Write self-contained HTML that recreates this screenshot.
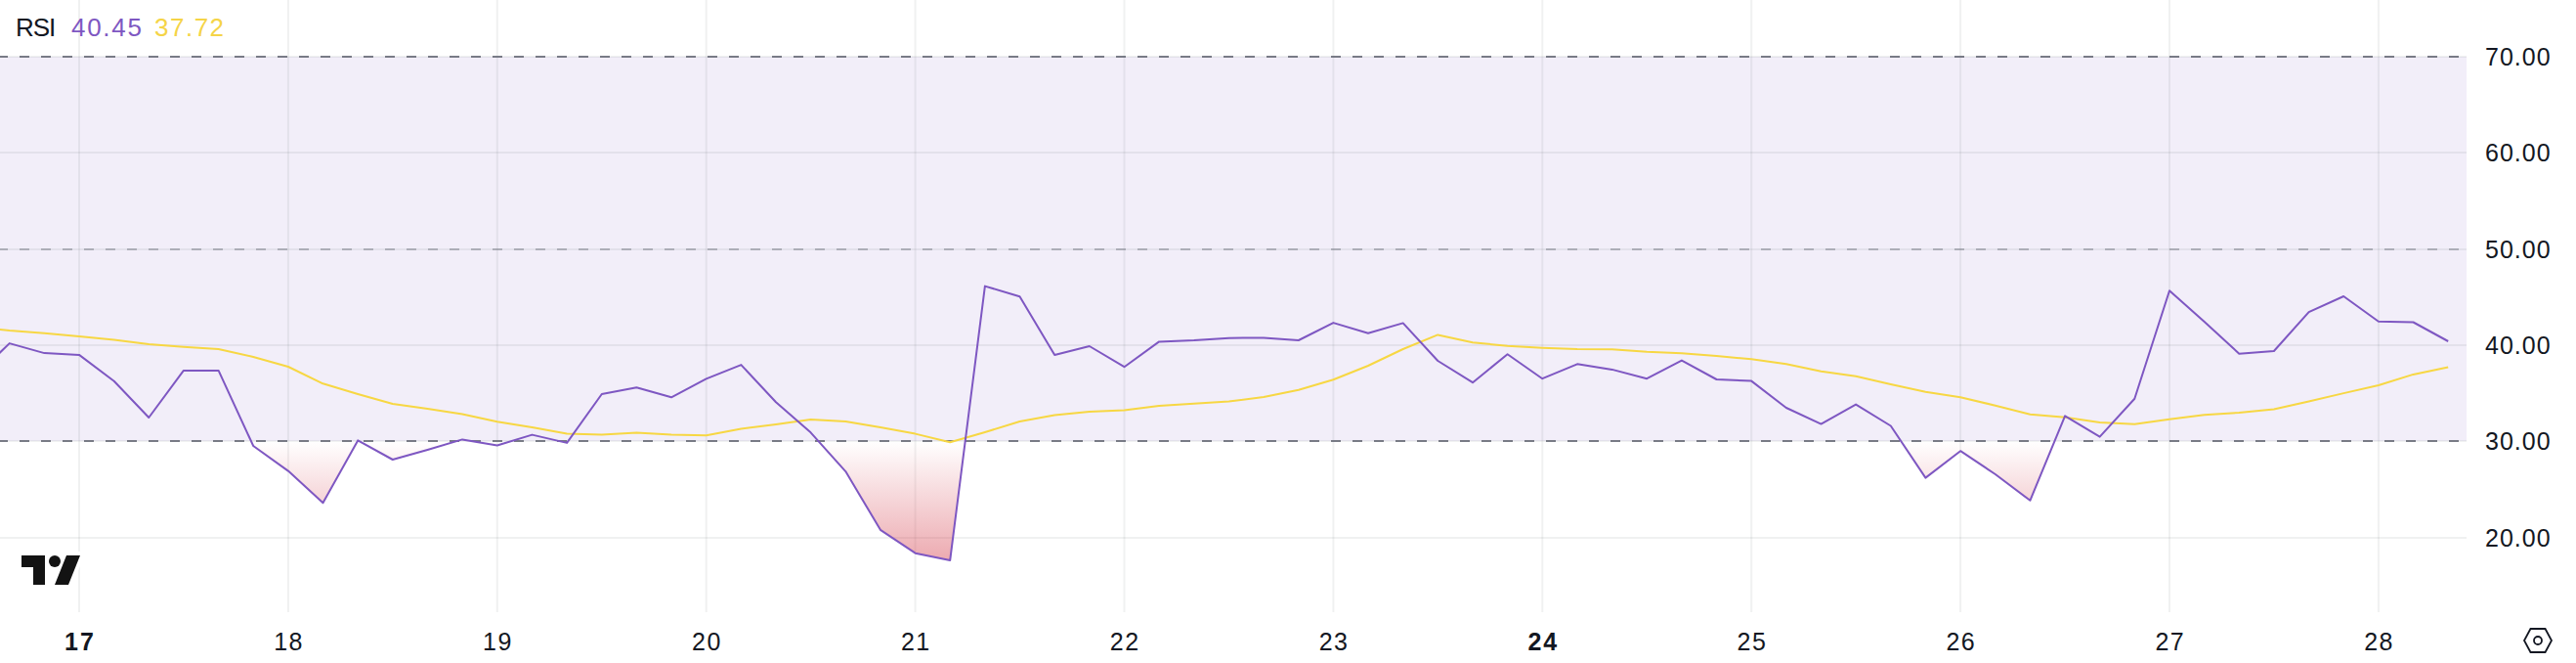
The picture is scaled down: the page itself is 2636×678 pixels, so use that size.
<!DOCTYPE html>
<html><head><meta charset="utf-8"><style>
html,body{margin:0;padding:0;background:#fff;}
body{width:2636px;height:678px;overflow:hidden;}
svg{display:block;font-family:"Liberation Sans", sans-serif;}
</style></head><body>
<svg width="2636" height="678" viewBox="0 0 2636 678">
<rect x="0" y="58" width="2524" height="393" fill="rgb(126,87,194)" fill-opacity="0.1"/>
<rect x="80.0" y="0" width="2" height="626" fill="rgba(42,56,57,0.07)"/>
<rect x="293.9" y="0" width="2" height="626" fill="rgba(42,56,57,0.07)"/>
<rect x="507.8" y="0" width="2" height="626" fill="rgba(42,56,57,0.07)"/>
<rect x="721.7" y="0" width="2" height="626" fill="rgba(42,56,57,0.07)"/>
<rect x="935.6" y="0" width="2" height="626" fill="rgba(42,56,57,0.07)"/>
<rect x="1149.5" y="0" width="2" height="626" fill="rgba(42,56,57,0.07)"/>
<rect x="1363.4" y="0" width="2" height="626" fill="rgba(42,56,57,0.07)"/>
<rect x="1577.3" y="0" width="2" height="626" fill="rgba(42,56,57,0.07)"/>
<rect x="1791.2" y="0" width="2" height="626" fill="rgba(42,56,57,0.07)"/>
<rect x="2005.1" y="0" width="2" height="626" fill="rgba(42,56,57,0.07)"/>
<rect x="2219.0" y="0" width="2" height="626" fill="rgba(42,56,57,0.07)"/>
<rect x="2432.9" y="0" width="2" height="626" fill="rgba(42,56,57,0.07)"/>
<rect x="0" y="155" width="2524" height="2" fill="rgba(42,56,57,0.07)"/>
<rect x="0" y="352" width="2524" height="2" fill="rgba(42,56,57,0.07)"/>
<rect x="0" y="549" width="2524" height="2" fill="rgba(42,56,57,0.07)"/>
<rect x="0" y="57" width="2524" height="2" fill="rgba(42,56,57,0.07)"/>
<rect x="0" y="254" width="2524" height="2" fill="rgba(42,56,57,0.07)"/>
<rect x="0" y="450" width="2524" height="2" fill="rgba(42,56,57,0.07)"/>
<line x1="0" y1="58" x2="2524" y2="58" stroke="#787B86" stroke-opacity="1" stroke-width="2" stroke-dasharray="10 12" stroke-dashoffset="2"/>
<line x1="0" y1="255" x2="2524" y2="255" stroke="#787B86" stroke-opacity="0.5" stroke-width="2" stroke-dasharray="10 12" stroke-dashoffset="2"/>
<line x1="0" y1="451" x2="2524" y2="451" stroke="#787B86" stroke-opacity="1" stroke-width="2" stroke-dasharray="10 12" stroke-dashoffset="2"/>
<defs>
<linearGradient id="os" gradientUnits="userSpaceOnUse" x1="0" y1="451" x2="0" y2="745.75">
<stop offset="0" stop-color="#D23241" stop-opacity="0"/><stop offset="1" stop-color="#D23241" stop-opacity="1"/></linearGradient>
<clipPath id="below"><rect x="0" y="451" width="2524" height="678"/></clipPath>
<clipPath id="pane"><rect x="0" y="0" width="2524" height="625"/></clipPath>
</defs>
<g clip-path="url(#pane)"><polygon points="-25.9,385.6 9.7,351.1 45.4,361.1 81.0,362.9 116.7,389.7 152.3,427.0 187.9,378.9 223.6,378.9 259.2,456.0 294.9,481.6 330.5,514.2 366.2,450.4 401.8,470.0 437.5,460.0 473.1,449.4 508.8,455.5 544.5,444.6 580.1,452.9 615.8,403.0 651.4,396.3 687.0,406.3 722.7,387.4 758.4,373.1 794.0,411.3 829.6,442.3 865.3,482.1 900.9,541.8 936.6,565.7 972.2,573.0 1007.9,292.6 1043.5,303.2 1079.2,363.0 1114.8,354.0 1150.5,375.2 1186.1,349.4 1221.8,348.0 1257.5,345.7 1293.1,345.4 1328.8,348.0 1364.4,330.1 1400.0,340.7 1435.7,330.4 1471.3,369.0 1507.0,391.2 1542.6,362.3 1578.3,387.2 1614.0,372.3 1649.6,377.9 1685.2,387.2 1720.9,368.6 1756.5,388.0 1792.2,389.6 1827.8,417.0 1863.5,433.6 1899.1,413.6 1934.8,435.5 1970.4,488.6 2006.1,461.2 2041.8,485.0 2077.4,511.8 2113.1,425.4 2148.7,446.6 2184.3,407.8 2220.0,297.3 2255.7,329.1 2291.3,361.7 2326.9,359.0 2362.6,319.2 2398.2,303.0 2433.9,328.8 2469.5,329.5 2505.2,349.0 2505.2,451 -25.9,451" fill="url(#os)" clip-path="url(#below)"/>
<polyline points="-25.9,334.5 9.7,338.1 45.4,340.8 81.0,344.1 116.7,347.5 152.3,352.0 187.9,354.8 223.6,357.1 259.2,365.0 294.9,375.0 330.5,392.3 366.2,403.0 401.8,413.0 437.5,418.0 473.1,423.6 508.8,431.2 544.5,436.9 580.1,443.6 615.8,444.6 651.4,442.5 687.0,444.5 722.7,445.2 758.4,438.5 794.0,434.0 829.6,429.0 865.3,431.0 900.9,437.0 936.6,443.6 972.2,452.3 1007.9,442.0 1043.5,431.0 1079.2,424.5 1114.8,421.0 1150.5,419.5 1186.1,415.0 1221.8,412.8 1257.5,410.4 1293.1,406.1 1328.8,398.8 1364.4,388.2 1400.0,374.0 1435.7,357.0 1471.3,342.4 1507.0,350.3 1542.6,353.7 1578.3,355.7 1614.0,357.0 1649.6,357.3 1685.2,359.7 1720.9,361.3 1756.5,364.0 1792.2,367.3 1827.8,372.3 1863.5,379.7 1899.1,384.8 1934.8,393.0 1970.4,400.7 2006.1,406.3 2041.8,414.7 2077.4,423.7 2113.1,426.7 2148.7,432.0 2184.3,433.7 2220.0,428.7 2255.7,424.3 2291.3,422.0 2326.9,418.4 2362.6,410.4 2398.2,402.1 2433.9,394.0 2469.5,382.9 2505.2,375.4" fill="none" stroke="#F7D743" stroke-width="2" stroke-linejoin="round"/>
<polyline points="-25.9,385.6 9.7,351.1 45.4,361.1 81.0,362.9 116.7,389.7 152.3,427.0 187.9,378.9 223.6,378.9 259.2,456.0 294.9,481.6 330.5,514.2 366.2,450.4 401.8,470.0 437.5,460.0 473.1,449.4 508.8,455.5 544.5,444.6 580.1,452.9 615.8,403.0 651.4,396.3 687.0,406.3 722.7,387.4 758.4,373.1 794.0,411.3 829.6,442.3 865.3,482.1 900.9,541.8 936.6,565.7 972.2,573.0 1007.9,292.6 1043.5,303.2 1079.2,363.0 1114.8,354.0 1150.5,375.2 1186.1,349.4 1221.8,348.0 1257.5,345.7 1293.1,345.4 1328.8,348.0 1364.4,330.1 1400.0,340.7 1435.7,330.4 1471.3,369.0 1507.0,391.2 1542.6,362.3 1578.3,387.2 1614.0,372.3 1649.6,377.9 1685.2,387.2 1720.9,368.6 1756.5,388.0 1792.2,389.6 1827.8,417.0 1863.5,433.6 1899.1,413.6 1934.8,435.5 1970.4,488.6 2006.1,461.2 2041.8,485.0 2077.4,511.8 2113.1,425.4 2148.7,446.6 2184.3,407.8 2220.0,297.3 2255.7,329.1 2291.3,361.7 2326.9,359.0 2362.6,319.2 2398.2,303.0 2433.9,328.8 2469.5,329.5 2505.2,349.0" fill="none" stroke="#7E57C2" stroke-width="2" stroke-linejoin="round"/></g>
<text x="16" y="37" font-size="26" letter-spacing="-1" fill="#131722">RSI</text>
<text x="73" y="37" font-size="26" letter-spacing="1.7" fill="#7E57C2">40.45</text>
<text x="158" y="37" font-size="26" letter-spacing="1.5" fill="#F5D447">37.72</text>
<text x="2543" y="67.0" font-size="25" letter-spacing="1" fill="#131722">70.00</text>
<text x="2543" y="165.0" font-size="25" letter-spacing="1" fill="#131722">60.00</text>
<text x="2543" y="264.0" font-size="25" letter-spacing="1" fill="#131722">50.00</text>
<text x="2543" y="362.0" font-size="25" letter-spacing="1" fill="#131722">40.00</text>
<text x="2543" y="460.0" font-size="25" letter-spacing="1" fill="#131722">30.00</text>
<text x="2543" y="559.0" font-size="25" letter-spacing="1" fill="#131722">20.00</text>
<text x="82.0" y="665" font-size="25" letter-spacing="2" text-anchor="middle" fill="#131722" font-weight="bold">17</text>
<text x="295.6" y="665" font-size="25" letter-spacing="1.5" text-anchor="middle" fill="#131722">18</text>
<text x="509.5" y="665" font-size="25" letter-spacing="1.5" text-anchor="middle" fill="#131722">19</text>
<text x="723.4" y="665" font-size="25" letter-spacing="1.5" text-anchor="middle" fill="#131722">20</text>
<text x="937.3" y="665" font-size="25" letter-spacing="1.5" text-anchor="middle" fill="#131722">21</text>
<text x="1151.2" y="665" font-size="25" letter-spacing="1.5" text-anchor="middle" fill="#131722">22</text>
<text x="1365.1" y="665" font-size="25" letter-spacing="1.5" text-anchor="middle" fill="#131722">23</text>
<text x="1579.3" y="665" font-size="25" letter-spacing="2" text-anchor="middle" fill="#131722" font-weight="bold">24</text>
<text x="1792.9" y="665" font-size="25" letter-spacing="1.5" text-anchor="middle" fill="#131722">25</text>
<text x="2006.8" y="665" font-size="25" letter-spacing="1.5" text-anchor="middle" fill="#131722">26</text>
<text x="2220.8" y="665" font-size="25" letter-spacing="1.5" text-anchor="middle" fill="#131722">27</text>
<text x="2434.6" y="665" font-size="25" letter-spacing="1.5" text-anchor="middle" fill="#131722">28</text>
<path d="M68 568H82L70 598H56Z" fill="#fff" stroke="#fff" stroke-width="8" stroke-linejoin="round"/>
<g fill="#131313"><path d="M22 568H46V598H34V580H22Z"/><circle cx="56" cy="574" r="6"/><path d="M68 568H82L70 598H56Z"/></g>
<g fill="none" stroke="#131722" stroke-width="1.8"><path d="M2589.5 643H2604.5L2611 655L2604.5 667H2589.5L2583 655Z"/><circle cx="2597" cy="655" r="4"/></g>
</svg>
</body></html>
